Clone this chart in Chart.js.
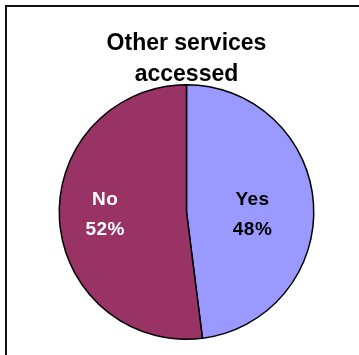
<!DOCTYPE html>
<html>
<head>
<meta charset="utf-8">
<script src="https://cdn.jsdelivr.net/npm/chart.js@4"></script>
<style>
    html, body { margin: 0; padding: 0; background: #fff; overflow: hidden; }
    #wrap { position: relative; width: 359px; height: 355px; }
    #frame { position: absolute; left: 5px; top: 5px; width: 400px; height: 400px; border-left: 2px solid #111; border-top: 2px solid #111; }
    #pieChart { position: absolute; left: 0; top: 0; }
</style>
</head>
<body>
<div id="wrap">
    <div id="frame"></div>
    <canvas id="pieChart" width="359" height="355"></canvas>
</div>
<script>
var titleLines = ["Other services", "accessed"];
var categories = ["Yes", "No"];
var percentValues = [48, 52];
var sliceColors = ["#9999FF", "#993366"];
var labelColors = ["#000000", "#FFFFFF"];

// draws "Yes / 48%" inside each slice
var sliceLabels = {
    id: 'sliceLabels',
    afterDatasetsDraw: function (chart, args, opts) {
        var ctx = chart.ctx;
        var meta = chart.getDatasetMeta(0);
        ctx.save();
        ctx.font = 'bold 19px Arial, "Liberation Sans", sans-serif';
        ctx.textAlign = 'center';
        ctx.textBaseline = 'middle';
        if ('letterSpacing' in ctx) ctx.letterSpacing = '0.5px';
        meta.data.forEach(function (arc, i) {
            var p = arc.getProps(['x', 'y', 'startAngle', 'endAngle', 'outerRadius'], true);
            var mid = (p.startAngle + p.endAngle) / 2;
            var x = p.x + Math.cos(mid) * p.outerRadius * opts.frac[i];
            var y = p.y;
            ctx.fillStyle = labelColors[i];
            ctx.fillText(categories[i], x, y - 12);
            ctx.fillText(percentValues[i] + '%', x, y + 18);
        });
        ctx.restore();
    }
};

var ctx = document.getElementById("pieChart").getContext('2d');
var myPieChart = new Chart(ctx, {
    type: 'pie',
    data: {
        labels: categories,
        datasets: [{
            data: percentValues,
            backgroundColor: sliceColors,
            borderColor: '#000000',
            borderWidth: 1.5
        }]
    },
    options: {
        responsive: false,
        animation: false,
        layout: {
            padding: { left: 14, right: 0, top: 0, bottom: 15 }
        },
        plugins: {
            legend: { display: false },
            tooltip: { enabled: false },
            title: {
                display: true,
                text: titleLines,
                color: '#000000',
                font: { family: 'Arial, "Liberation Sans", sans-serif', size: 23, weight: 'bold', lineHeight: '31px' },
                padding: { top: 28.5, bottom: -6.5 }
            },
            sliceLabels: { frac: [0.52, 0.64] }
        }
    },
    plugins: [sliceLabels]
});
</script>
</body>
</html>
